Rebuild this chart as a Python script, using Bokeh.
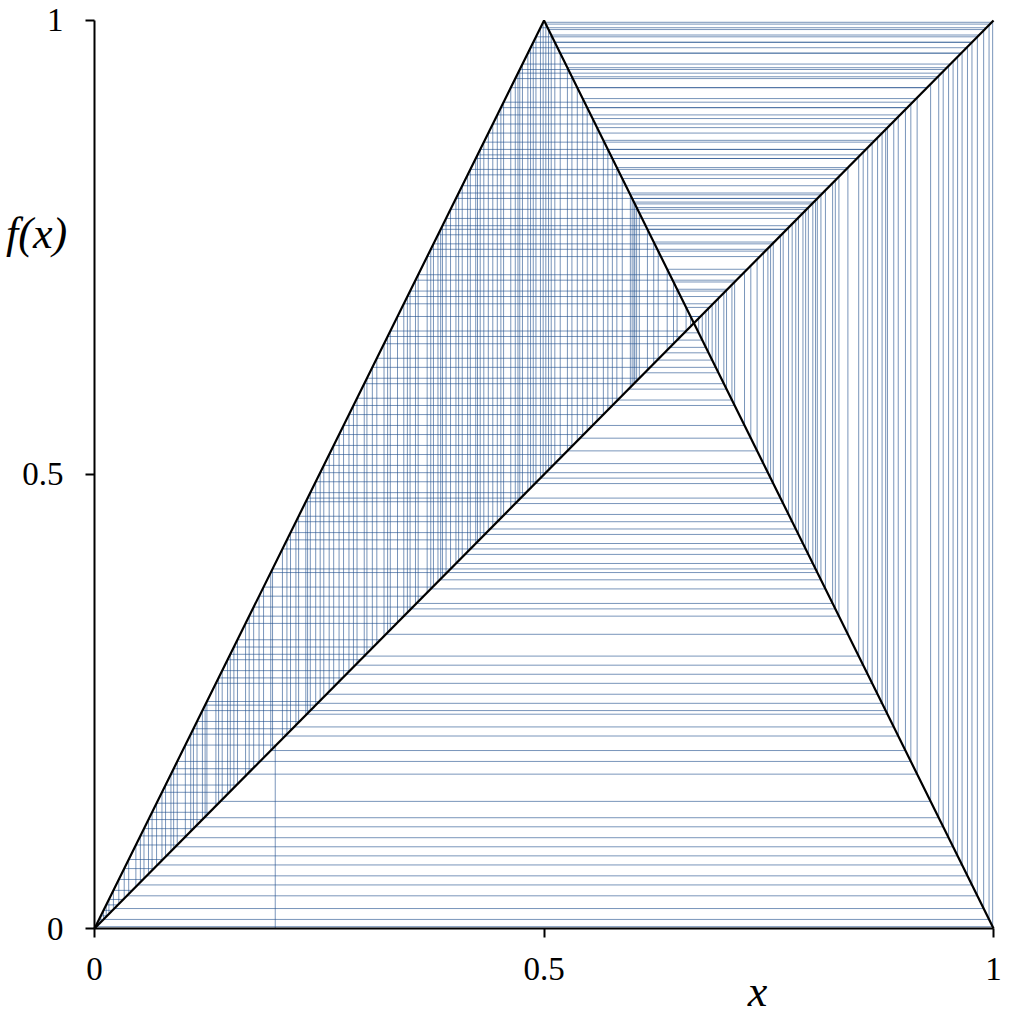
import numpy as np
from bokeh.plotting import figure
from bokeh.models import FixedTicker, Label
from bokeh.embed import file_html
from bokeh.resources import INLINE

# tent map f(x) and the diagonal y = x
tent_x = [0.0, 0.5, 1.0]
tent_y = [0.0, 1.0, 0.0]
diag_x = [0.0, 1.0]
diag_y = [0.0, 1.0]

# starting point of the orbit (vertical line drawn up from the x axis)
start_x = 0.201

# x positions of the cobweb's vertical lines
orbit_x = [
    0.003, 0.005, 0.007, 0.010, 0.013, 0.016, 0.021, 0.027, 0.033, 0.038,
    0.046, 0.051, 0.055, 0.060, 0.064, 0.069, 0.075, 0.079, 0.085, 0.088,
    0.092, 0.101, 0.107, 0.110, 0.114, 0.120, 0.123, 0.125, 0.135, 0.138,
    0.142, 0.148, 0.151, 0.155, 0.159, 0.168, 0.172, 0.177, 0.183, 0.188,
    0.196, 0.198, 0.209, 0.214, 0.218, 0.224, 0.227, 0.235, 0.237, 0.240,
    0.246, 0.251, 0.255, 0.261, 0.266, 0.272, 0.277, 0.283, 0.288, 0.292,
    0.300, 0.303, 0.309, 0.314, 0.322, 0.326, 0.329, 0.337, 0.344, 0.348,
    0.351, 0.357, 0.360, 0.370, 0.374, 0.377, 0.382, 0.385, 0.387, 0.391,
    0.396, 0.402, 0.405, 0.409, 0.415, 0.418, 0.424, 0.426, 0.429, 0.433,
    0.438, 0.443, 0.448, 0.452, 0.455, 0.463, 0.468, 0.471, 0.473, 0.476,
    0.482, 0.485, 0.488, 0.491, 0.496, 0.499, 0.502, 0.505, 0.508, 0.512,
    0.518, 0.526, 0.531, 0.537, 0.543, 0.548, 0.554, 0.559, 0.566, 0.571,
    0.576, 0.581, 0.587, 0.596, 0.598, 0.600, 0.601, 0.603, 0.606, 0.615,
    0.622, 0.627, 0.637, 0.644, 0.648, 0.658, 0.663, 0.672, 0.676, 0.680,
    0.683, 0.687, 0.691, 0.694, 0.700, 0.703, 0.709, 0.712, 0.723, 0.730,
    0.737, 0.744, 0.749, 0.752, 0.755, 0.763, 0.766, 0.772, 0.776, 0.780,
    0.783, 0.788, 0.791, 0.794, 0.799, 0.802, 0.804, 0.808, 0.813, 0.821,
    0.824, 0.828, 0.838, 0.850, 0.855, 0.860, 0.865, 0.871, 0.876, 0.880,
    0.882, 0.889, 0.894, 0.902, 0.908, 0.915, 0.930, 0.939, 0.944, 0.950,
    0.955, 0.960, 0.965, 0.971, 0.976, 0.982, 0.989, 0.995, 0.999,
]

tick_vals = [0, 0.5, 1]
tick_labels = ["0", "0.5", "1"]

ox = np.array(orbit_x)
fx = np.interp(ox, tent_x, tent_y)      # where each vertical meets the tent
on_diag = np.interp(ox, diag_x, diag_y)  # where it starts on the diagonal
back = np.interp(fx, diag_y, diag_x)     # where the horizontal meets the diagonal

# frame fills the whole canvas; axes sit at x=0 / y=0 so the labels fit inside
p = figure(frame_width=1005, frame_height=1016,
           x_range=(-0.1046, 1.0133), y_range=(-0.0969, 1.0220),
           output_backend="svg", toolbar_location=None, min_border=0)
p.grid.visible = False
p.outline_line_color = None
p.background_fill_color = "white"
p.border_fill_color = "white"

web = dict(line_color="#1f4e8c", line_alpha=0.6, line_width=1)
p.segment(ox, on_diag, ox, fx, **web)
p.segment(ox, fx, back, fx, **web)
p.segment([start_x], [0], [start_x], [np.interp(start_x, diag_x, diag_y)], **web)

p.line(tent_x, tent_y, line_color="black", line_width=2.2)
p.line(diag_x, diag_y, line_color="black", line_width=2.2)

for ax in (p.xaxis[0], p.yaxis[0]):
    ax.fixed_location = 0
    ax.bounds = (0, 1)
    ax.ticker = FixedTicker(ticks=tick_vals)
    ax.major_label_overrides = dict(zip(tick_vals, tick_labels))
    ax.minor_tick_line_color = None
    ax.major_tick_out = 9
    ax.major_tick_in = 0
    ax.major_tick_line_width = 2
    ax.axis_line_width = 2
    ax.axis_line_color = "black"
    ax.major_tick_line_color = "black"
    ax.major_label_text_font = "Liberation Serif"
    ax.major_label_text_font_size = "33px"
    ax.major_label_text_color = "black"
p.xaxis.major_label_standoff = 20
p.yaxis.major_label_standoff = 22
p.yaxis.major_label_orientation = "horizontal"

lab = dict(text_font="Liberation Serif", text_font_style="italic",
           text_font_size="44px", text_color="black",
           text_align="center", text_baseline="middle")
p.add_layout(Label(x=0.7375, y=-0.0694, text="x", **lab))
p.add_layout(Label(x=-0.0645, y=0.7654, text="f(x)", **lab))

open("out.html", "w").write(file_html(p, INLINE))
